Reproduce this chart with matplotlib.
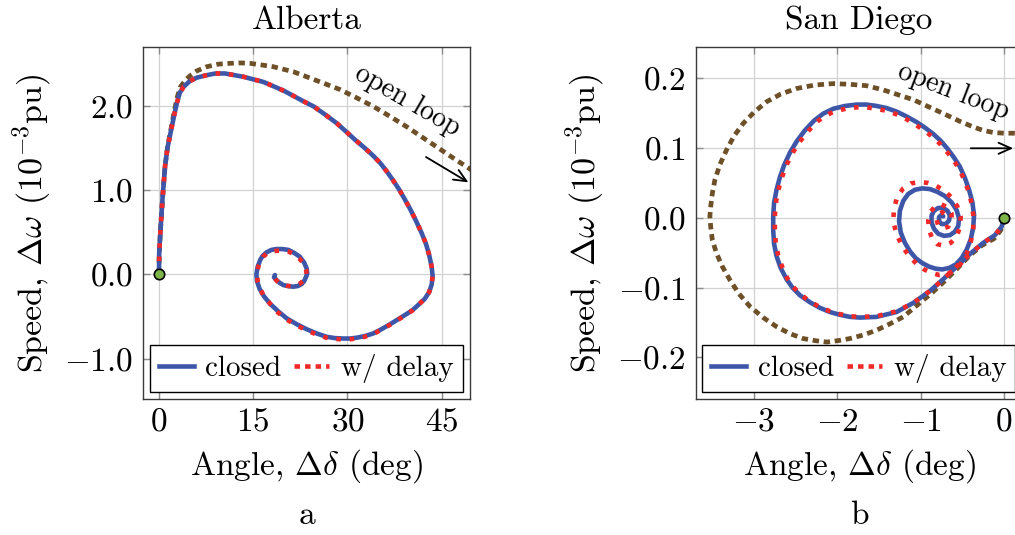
import matplotlib
matplotlib.use('Agg')
import matplotlib.pyplot as plt
from matplotlib.lines import Line2D

plt.rcParams['font.family'] = ['cmr10']
plt.rcParams['mathtext.fontset'] = 'cm'
plt.rcParams['axes.formatter.use_mathtext'] = True

# ---------------- data: Alberta ----------------
alb_closed_x = [0.0, 0.03, 0.27, 0.58, 0.96, 1.35, 1.9, 2.4, 2.85, 3.3, 3.9, 4.9, 6.0, 7.6, 9.0, 10.5, 12.0,
                13.5, 15.0, 16.6, 18.5, 20.0, 21.5, 23.0, 24.6, 26.5, 28.3, 29.8, 31.2, 32.7, 34.1, 35.2,
                36.2, 37.2, 38.1, 39.0, 40.0, 40.9, 41.8, 42.5, 43.0, 43.4, 43.55, 43.4, 43.0, 42.3, 41.3,
                40.4, 39.4, 38.1, 36.8, 35.4, 34.1, 32.8, 31.5, 30.4, 29.3, 28.0, 26.7, 25.1, 23.5, 21.9,
                20.3, 19.0, 17.7, 16.7, 16.0, 15.6, 15.5, 15.7, 16.1, 16.5, 17.1, 17.9, 18.7, 19.6, 20.6,
                21.5, 22.4, 23.1, 23.5, 23.6, 23.4, 23.1, 22.7, 22.1, 21.4, 20.6, 19.8, 19.2, 18.7, 18.3,
                18.45]
alb_closed_y = [0.0, 0.25, 0.57, 0.92, 1.28, 1.50, 1.70, 1.88, 2.03, 2.15, 2.22, 2.29, 2.33, 2.36, 2.38, 2.38,
                2.36, 2.34, 2.31, 2.28, 2.22, 2.17, 2.11, 2.05, 1.99, 1.89, 1.79, 1.69, 1.595, 1.50, 1.405,
                1.32, 1.225, 1.12, 1.02, 0.905, 0.77, 0.635, 0.49, 0.36, 0.23, 0.09, -0.02, -0.12, -0.21,
                -0.29, -0.36, -0.42, -0.47, -0.53, -0.59, -0.65, -0.70, -0.73, -0.75, -0.76, -0.76, -0.755,
                -0.74, -0.70, -0.65, -0.59, -0.52, -0.44, -0.35, -0.26, -0.17, -0.08, 0.0, 0.09, 0.17, 0.22,
                0.26, 0.29, 0.30, 0.30, 0.29, 0.255, 0.21, 0.14, 0.07, 0.01, -0.03, -0.08, -0.115, -0.138,
                -0.146, -0.14, -0.127, -0.10, -0.067, -0.035, -0.008]

alb_delay_x = [0.0, 0.03, 0.27, 0.58, 0.96, 1.35, 1.9, 2.4, 2.85, 3.3, 3.9, 4.9, 6.0, 7.6, 9.0, 10.5, 12.0,
               13.5, 15.0, 16.6, 18.5, 20.0, 21.5, 23.0, 24.6, 26.5, 28.3, 29.8, 31.2, 32.7, 34.1, 35.2,
               36.2, 37.2, 38.1, 39.0, 40.0, 40.9, 41.8, 42.5, 43.0, 43.4, 43.55, 43.4, 43.0, 42.3, 41.3,
               40.3, 39.3, 38.0, 36.7, 35.3, 34.0, 32.7, 31.4, 30.3, 29.2, 27.9, 26.6, 25.0, 23.4, 21.8,
               20.2, 18.9, 17.7, 16.7, 16.1, 15.7, 15.6, 15.8, 16.2, 16.6, 17.2, 18.0, 18.8, 19.7, 20.6,
               21.5, 22.3, 23.0, 23.4, 23.5, 23.3, 22.9, 22.4, 21.8, 21.1, 20.3, 19.6, 19.0, 18.6, 18.4]
alb_delay_y = [0.0, 0.25, 0.57, 0.92, 1.28, 1.50, 1.70, 1.88, 2.03, 2.15, 2.22, 2.29, 2.33, 2.36, 2.38, 2.38,
               2.36, 2.34, 2.31, 2.28, 2.22, 2.17, 2.11, 2.05, 1.99, 1.89, 1.79, 1.69, 1.595, 1.50, 1.405,
               1.32, 1.225, 1.12, 1.02, 0.905, 0.77, 0.635, 0.49, 0.36, 0.23, 0.09, -0.02, -0.12, -0.21,
               -0.29, -0.36, -0.43, -0.48, -0.54, -0.60, -0.66, -0.71, -0.74, -0.76, -0.77, -0.77, -0.765,
               -0.75, -0.71, -0.66, -0.60, -0.53, -0.45, -0.35, -0.26, -0.17, -0.08, 0.01, 0.09, 0.16, 0.21,
               0.25, 0.27, 0.28, 0.28, 0.27, 0.24, 0.19, 0.13, 0.06, 0.0, -0.04, -0.08, -0.11, -0.13,
               -0.14, -0.135, -0.12, -0.095, -0.065, -0.035]

alb_open_x = [0.0, 0.03, 0.27, 0.58, 0.96, 1.35, 1.9, 2.4, 2.9, 3.4, 4.2, 4.9, 6.0, 7.6, 9.4, 11.3, 13.0,
              14.5, 16.4, 18.2, 19.8, 21.4, 23.0, 24.6, 26.7, 28.8, 31.5, 34.1, 36.8, 39.4, 41.8, 44.2,
              46.7, 49.25, 52.0]
alb_open_y = [0.0, 0.25, 0.57, 0.92, 1.28, 1.50, 1.72, 1.92, 2.10, 2.22, 2.30, 2.35, 2.41, 2.46, 2.49, 2.50,
              2.505, 2.50, 2.48, 2.46, 2.43, 2.40, 2.355, 2.31, 2.25, 2.19, 2.09, 1.99, 1.87, 1.75, 1.63,
              1.51, 1.385, 1.26, 1.12]

# ---------------- data: San Diego ----------------
sd_closed_x = [0.0, -0.03, -0.11, -0.25, -0.41, -0.57, -0.73, -0.89, -1.09, -1.29, -1.53, -1.73, -1.85,
               -1.97, -2.09, -2.21, -2.33, -2.45, -2.54, -2.61, -2.68, -2.73, -2.76, -2.77, -2.77, -2.76,
               -2.73, -2.69, -2.64, -2.57, -2.49, -2.39, -2.28, -2.17, -2.05, -1.91, -1.77, -1.65, -1.53,
               -1.41, -1.29, -1.17, -1.05, -0.95, -0.85, -0.76, -0.68, -0.60, -0.53, -0.47, -0.42, -0.38,
               -0.36, -0.37, -0.40, -0.45, -0.51, -0.58, -0.66, -0.74, -0.82, -0.90, -0.98, -1.06, -1.13,
               -1.19, -1.24, -1.26, -1.25, -1.21, -1.15, -1.07, -0.98, -0.89, -0.80, -0.71, -0.63, -0.57,
               -0.54, -0.55, -0.59, -0.65, -0.72, -0.79, -0.84, -0.87, -0.87, -0.84, -0.79, -0.73, -0.68,
               -0.65, -0.66, -0.70, -0.75, -0.78, -0.78, -0.75, -0.73]
sd_closed_y = [0.0, -0.013, -0.025, -0.036, -0.052, -0.070, -0.088, -0.105, -0.122, -0.135, -0.142, -0.143,
               -0.142, -0.139, -0.135, -0.129, -0.121, -0.111, -0.100, -0.088, -0.072, -0.055, -0.037,
               -0.018, 0.002, 0.021, 0.040, 0.058, 0.075, 0.093, 0.109, 0.125, 0.139, 0.149, 0.156, 0.160,
               0.162, 0.162, 0.160, 0.157, 0.152, 0.145, 0.137, 0.129, 0.120, 0.110, 0.099, 0.086, 0.073,
               0.057, 0.040, 0.022, 0.004, -0.014, -0.031, -0.046, -0.058, -0.067, -0.072, -0.074, -0.073,
               -0.070, -0.065, -0.058, -0.048, -0.036, -0.021, -0.005, 0.010, 0.024, 0.034, 0.040, 0.042,
               0.041, 0.037, 0.031, 0.022, 0.011, -0.001, -0.012, -0.020, -0.025, -0.026, -0.023, -0.016,
               -0.007, 0.003, 0.010, 0.014, 0.014, 0.010, 0.003, -0.004, -0.009, -0.009, -0.005, 0.001,
               0.004, 0.002]

sd_delay_x = [0.0, -0.03, -0.11, -0.25, -0.41, -0.57, -0.73, -0.89, -1.09, -1.29, -1.53, -1.73, -1.85,
              -1.97, -2.09, -2.21, -2.33, -2.44, -2.53, -2.60, -2.66, -2.71, -2.74, -2.75, -2.75, -2.74,
              -2.71, -2.67, -2.62, -2.55, -2.47, -2.37, -2.27, -2.16, -2.04, -1.90, -1.77, -1.65, -1.53,
              -1.41, -1.29, -1.17, -1.06, -0.96, -0.86, -0.77, -0.69, -0.61, -0.54, -0.48, -0.43, -0.39,
              -0.37, -0.37, -0.40, -0.45, -0.52, -0.60, -0.69, -0.78, -0.87, -0.96, -1.05, -1.14, -1.22,
              -1.29, -1.33, -1.32, -1.28, -1.21, -1.12, -1.02, -0.92, -0.82, -0.72, -0.63, -0.56, -0.52,
              -0.53, -0.57, -0.64, -0.72, -0.80, -0.86, -0.90, -0.91, -0.88, -0.82, -0.75, -0.68, -0.63,
              -0.63, -0.67, -0.73, -0.79, -0.81, -0.79, -0.74, -0.70, -0.71]
sd_delay_y = [0.0, -0.013, -0.025, -0.036, -0.052, -0.070, -0.088, -0.105, -0.122, -0.134, -0.141, -0.142,
              -0.141, -0.138, -0.134, -0.128, -0.120, -0.110, -0.099, -0.087, -0.071, -0.054, -0.036,
              -0.018, 0.002, 0.020, 0.039, 0.056, 0.073, 0.090, 0.106, 0.121, 0.135, 0.145, 0.152, 0.156,
              0.158, 0.158, 0.156, 0.153, 0.148, 0.141, 0.133, 0.125, 0.116, 0.106, 0.095, 0.083, 0.070,
              0.055, 0.039, 0.021, 0.004, -0.016, -0.035, -0.052, -0.066, -0.076, -0.081, -0.082, -0.079,
              -0.074, -0.066, -0.055, -0.041, -0.024, -0.005, 0.014, 0.030, 0.042, 0.049, 0.051, 0.050,
              0.046, 0.039, 0.029, 0.016, 0.001, -0.014, -0.027, -0.036, -0.040, -0.038, -0.030, -0.018,
              -0.004, 0.009, 0.017, 0.019, 0.015, 0.006, -0.005, -0.013, -0.015, -0.011, -0.003, 0.005,
              0.008, 0.004, -0.002]

sd_open_x = [0.0, -0.04, -0.12, -0.27, -0.42, -0.58, -0.75, -0.86, -0.97, -1.09, -1.21, -1.37, -1.53,
             -1.69, -1.85, -1.99, -2.13, -2.27, -2.41, -2.57, -2.73, -2.89, -3.05, -3.18, -3.29, -3.38,
             -3.45, -3.50, -3.52, -3.53, -3.52, -3.50, -3.47, -3.41, -3.33, -3.24, -3.13, -3.00, -2.85,
             -2.68, -2.49, -2.27, -2.05, -1.85, -1.65, -1.45, -1.27, -1.09, -0.89, -0.69, -0.53, -0.37,
             -0.25, -0.13, 0.0, 0.11, 0.30]
sd_open_y = [0.0, -0.018, -0.030, -0.040, -0.055, -0.075, -0.095, -0.107, -0.118, -0.130, -0.142, -0.152,
             -0.161, -0.168, -0.173, -0.176, -0.178, -0.176, -0.173, -0.166, -0.156, -0.143, -0.127,
             -0.109, -0.089, -0.070, -0.051, -0.032, -0.013, 0.002, 0.016, 0.035, 0.054, 0.076, 0.097,
             0.117, 0.135, 0.151, 0.166, 0.177, 0.185, 0.190, 0.192, 0.191, 0.189, 0.183, 0.176, 0.169,
             0.158, 0.147, 0.138, 0.130, 0.125, 0.122, 0.121, 0.121, 0.120]

alb_xticks = [0, 15, 30, 45]
alb_xticklabels = ['0', '15', '30', '45']
alb_yticks = [-1.0, 0.0, 1.0, 2.0]
alb_yticklabels = ['-1.0', '0.0', '1.0', '2.0']
sd_xticks = [-3, -2, -1, 0]
sd_xticklabels = ['-3', '-2', '-1', '0']
sd_yticks = [-0.2, -0.1, 0.0, 0.1, 0.2]
sd_yticklabels = ['-0.2', '-0.1', '0.0', '0.1', '0.2']

titles = ['Alberta', 'San Diego']
sublabels = ['a', 'b']
legend_labels = ['closed', 'w/ delay']
start_point = (0.0, 0.0)

BLUE = '#3D56A8'
RED = '#F02828'
BROWN = '#6E5028'
GREEN = '#7DB54A'

W, H = 1015, 535
fig = plt.figure(figsize=(W / 100, H / 100), dpi=100)


def px_axes(l, t, r, b):
    return fig.add_axes([l / W, 1 - b / H, (r - l) / W, (b - t) / H])


ax1 = px_axes(143.3, 47.3, 470.0, 399.3)
ax2 = px_axes(695.7, 47.3, 1022.4, 399.3)

panels = [
    (ax1, alb_closed_x, alb_closed_y, alb_delay_x, alb_delay_y, alb_open_x, alb_open_y,
     (-2.5, 49.5), (-1.48, 2.69), alb_xticks, alb_xticklabels, alb_yticks, alb_yticklabels),
    (ax2, sd_closed_x, sd_closed_y, sd_delay_x, sd_delay_y, sd_open_x, sd_open_y,
     (-3.70, 0.22), (-0.26, 0.244), sd_xticks, sd_xticklabels, sd_yticks, sd_yticklabels),
]

for i, (ax, cx, cy, dx, dy, ox, oy, xl, yl, xt, xtl, yt, ytl) in enumerate(panels):
    ax.plot(ox, oy, color=BROWN, lw=3.4, linestyle=(0, (1.35, 1.0)), dash_capstyle='butt',
            dash_joinstyle='round', zorder=2)
    ax.plot(cx, cy, color=BLUE, lw=3.3, solid_joinstyle='round', solid_capstyle='round', zorder=3)
    ax.plot(dx, dy, color=RED, lw=3.3, linestyle=(0, (1.0, 1.9)), dash_capstyle='butt',
            dash_joinstyle='round', zorder=4)
    ax.plot([start_point[0]], [start_point[1]], 'o', ms=7.5, mfc=GREEN, mec='black', mew=1.2,
            zorder=6, clip_on=False)
    ax.set_xlim(*xl)
    ax.set_ylim(*yl)
    ax.set_xticks(xt, labels=['$%s$' % s for s in xtl])
    ax.set_yticks(yt, labels=['$%s$' % s for s in ytl])
    ax.grid(True, color='#d2d2d2', lw=0.9, zorder=0)
    ax.set_axisbelow(True)
    ax.tick_params(axis='both', direction='in', length=5, width=1.0, color='#8c8c8c',
                   top=True, right=True, labelsize=24)
    ax.tick_params(axis='x', pad=6)
    ax.tick_params(axis='y', pad=7)
    for sp in ax.spines.values():
        sp.set_color('#3a3a3a')
        sp.set_linewidth(1.0)
    ax.set_xlabel(r'Angle, $\Delta\delta$ (deg)', fontsize=24, va='baseline')
    ax.xaxis.set_label_coords(0.5, -0.2145)
    ax.set_ylabel(r'Speed, $\Delta\omega$ ($10^{-3}$pu)', fontsize=24.5, va='center')
    ax.yaxis.set_label_coords(-0.341, 0.5)
    ax.text(0.5, 1.052, titles[i], transform=ax.transAxes, ha='center', va='baseline', fontsize=24)
    ax.text(0.502, -0.354, sublabels[i], transform=ax.transAxes, ha='center', va='baseline', fontsize=24)

    handles = [Line2D([], [], color=BLUE, lw=3.3),
               Line2D([], [], color=RED, lw=3.3, linestyle=(0, (1.2, 1.1)))]
    leg = ax.legend(handles, legend_labels, loc='lower left', bbox_to_anchor=(0.0205, 0.0216),
                    ncol=2, fontsize=21, frameon=True, fancybox=False, framealpha=1,
                    edgecolor='black', handlelength=1.2, handletextpad=0.4, columnspacing=0.44,
                    borderpad=0.3, borderaxespad=0)
    leg.get_frame().set_linewidth(1.0)
    leg.set_zorder(10)

# annotations
ax1.text(39.6, 2.05, 'open loop', rotation=-30, ha='center', va='center', rotation_mode='anchor',
         fontsize=20)
ax1.annotate('', xy=(49.25, 1.09), xytext=(42.5, 1.39),
             arrowprops=dict(arrowstyle='->,head_length=0.45,head_width=0.2', lw=1.3, color='black',
                             shrinkA=0, shrinkB=0, mutation_scale=20))
ax2.text(-0.613, 0.1805, 'open loop', rotation=-21, ha='center', va='center', rotation_mode='anchor',
         fontsize=20)
ax2.annotate('', xy=(0.11, 0.0994), xytext=(-0.40, 0.0994),
             arrowprops=dict(arrowstyle='->,head_length=0.45,head_width=0.2', lw=1.3, color='black',
                             shrinkA=0, shrinkB=0, mutation_scale=20))

fig.savefig('out.png', dpi=100)
